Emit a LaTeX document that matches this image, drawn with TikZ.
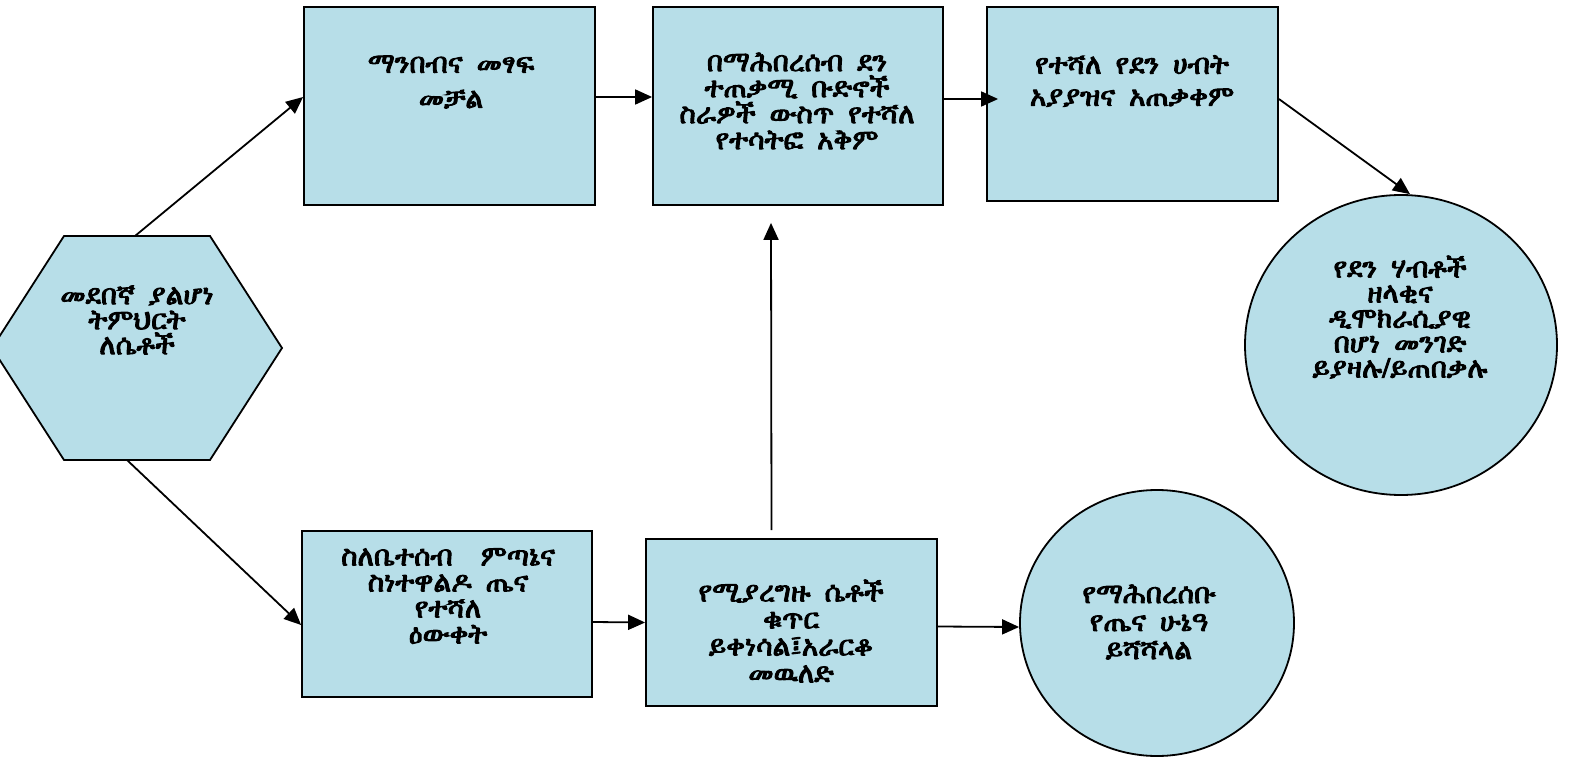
\documentclass[tikz,border=0pt]{standalone}
\usepackage{fontspec}
\IfFontExistsTF{FreeSerif}{\setmainfont{FreeSerif}[FakeBold=3.5,WordSpace=2]}{%
  \IfFontExistsTF{Abyssinica SIL}{\setmainfont{Abyssinica SIL}[FakeBold=3.5,WordSpace=2]}{%
    \IfFontExistsTF{FreeSerif.ttf}{\setmainfont{FreeSerif.ttf}[FakeBold=3.5,WordSpace=2]}{\setmainfont{DejaVu Sans}}}}
\usetikzlibrary{shapes.geometric,arrows.meta,calc}
\definecolor{boxfill}{RGB}{183,222,232}
\tikzset{
  shapefill/.style={fill=boxfill,draw=black,line width=1.8pt},
  box/.style={shapefill,rectangle,inner sep=0pt},
  oval/.style={shapefill,ellipse,inner sep=0pt},
  txt/.style={align=center,inner sep=0pt,font=\fontsize{28}{#1}\selectfont},
  txt/.default=26,
  arr/.style={line width=1.8pt,-{Triangle[length=17pt,width=15pt]}}
}
\begin{document}
\begin{tikzpicture}[x=1pt,y=-1pt]
\useasboundingbox (0,0) rectangle (1575,757);
% shapes
\node[box,minimum width=291pt,minimum height=198pt] (b1) at (449.5,106) {};
\node[box,minimum width=290pt,minimum height=198pt] (b2) at (798,106) {};
\node[box,minimum width=291pt,minimum height=194pt] (b3) at (1132.5,104) {};
\node[box,minimum width=290pt,minimum height=166pt] (b4) at (447,614) {};
\node[box,minimum width=291pt,minimum height=167pt] (b5) at (791.5,622.5) {};
\node[oval,minimum width=312pt,minimum height=300pt] (rc) at (1401,345) {};
\node[oval,minimum width=274pt,minimum height=266pt] (bc) at (1157,623) {};
\filldraw[shapefill] (64,236) -- (210,236) -- (282,348) -- (210,460) -- (64,460) -- (-8,348) -- cycle;
\coordinate (hextop) at (135,236);
\coordinate (hexbot) at (127,460);
% texts
\node[txt=35] (t1) at (451,82) {ማንበብና መፃፍ\\መቻል};
\node[txt] (t2) at (797,101) {በማሕበረሰብ ደን\\ተጠቃሚ ቡድኖች\\ስራዎች ውስጥ የተሻለ\\የተሳትፎ አቅም};
\node[txt=32] (t3) at (1132,81) {የተሻለ የደን ሀብት\\አያያዝና አጠቃቀም};
\node[txt=25] (t4) at (1400,317) {የደን ሃብቶች\\ዘላቂና\\ዲሞክራሲያዊ\\በሆነ መንገድ\\ይያዛሉ/ይጠበቃሉ};
\node[txt=25] (t5) at (137,320) {መደበኛ ያልሆነ\\ትምህርት\\ለሴቶች};
\node[txt] (t6) at (448,596) {ስለቤተሰብ\ \ ምጣኔና\\ስነተዋልዶ ጤና\\የተሻለ\\ዕውቀት};
\node[txt=27] (t7) at (791,631) {የሚያረግዙ ሴቶች\\ቁጥር\\ይቀነሳል፤አራርቆ\\መዉለድ};
\node[txt=28] (t8) at (1149,622) {የማሕበረሰቡ\\የጤና ሁኔዓ\\ይሻሻላል};
% connectors
\draw[arr] (hextop) -- ([yshift=9pt]b1.west);
\draw[arr] (hexbot) -- ([yshift=-11pt]b4.west);
\draw[arr] ([yshift=9pt]b1.east) -- ([yshift=9pt]b2.west);
\draw[arr] ([yshift=7pt]b2.east) -- ([xshift=12pt,yshift=5pt]b3.west);
\draw[arr] ([yshift=5pt]b3.east) -- ([xshift=9pt]rc.north);
\draw[arr] ([xshift=-20pt,yshift=8pt]b5.north) -- ([xshift=-27pt,yshift=-17pt]b2.south);
\draw[arr] ([yshift=-8pt]b4.east) -- (b5.west);
\draw[arr] ([yshift=-4pt]b5.east) -- ([yshift=-4pt]bc.west);
\end{tikzpicture}
\end{document}
